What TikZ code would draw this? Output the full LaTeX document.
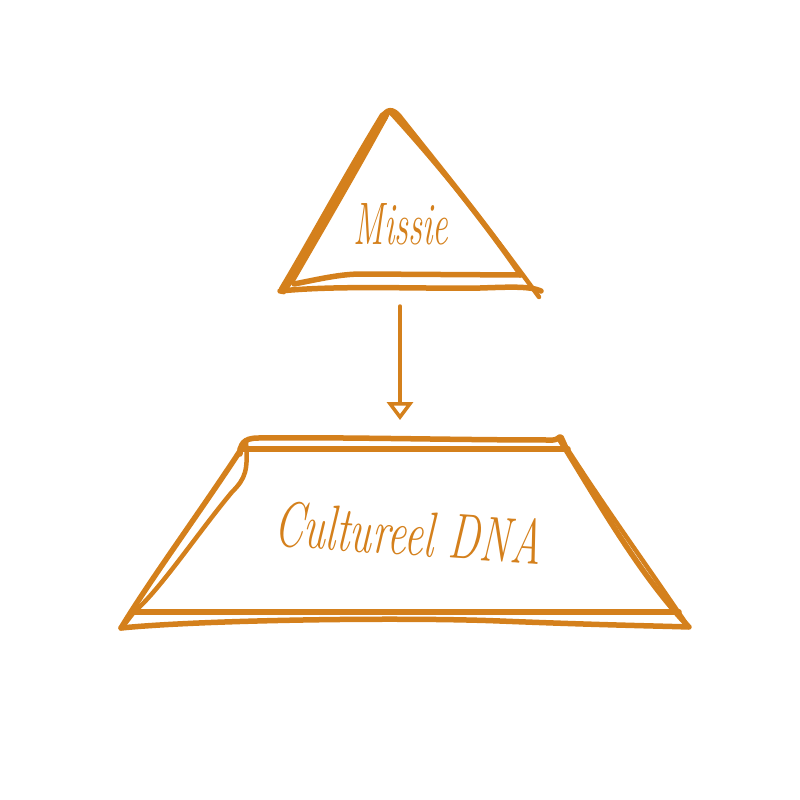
\documentclass[tikz,border=0pt]{standalone}
\usetikzlibrary{arrows.meta}
\definecolor{ochre}{HTML}{D4801C}
\begin{document}
\begin{tikzpicture}[x=1pt,y=-1pt,
  sk/.style={draw=ochre,line width=5.5pt,line cap=round,line join=round},
  lbl/.style={text=ochre,inner sep=0pt,transform shape}]
\useasboundingbox (0,0) rectangle (800,800);
% --- triangle (Missie) ---
\draw[sk,line width=9pt] (283,290) .. controls (310,245) and (345,180) .. (384,116);
\draw[sk,line width=4.5pt] (292,282) .. controls (322,230) and (360,165) .. (388,113);
\draw[sk] (382,118) .. controls (387,108) and (393,109) .. (399,116) .. controls (440,168) and (487,225) .. (521,275);
\draw[sk,line width=4.5pt] (391,113) .. controls (452,180) and (502,246) .. (539,297);
\draw[sk] (294,284) .. controls (320,279) and (340,274) .. (362,274) -- (520,275);
\draw[sk] (280,291) .. controls (340,285) and (420,289) .. (480,288) .. controls (510,287) and (530,286) .. (541,291);
\begin{scope}[shift={(401,224)},xscale=0.58]
\node[lbl,font=\fontsize{60}{60}\selectfont\itshape] (missie) at (0,0) {Missie};
\end{scope}
% --- arrow ---
\coordinate (arrS) at (400,306);
\coordinate (arrE) at (400,420);
\draw[ochre,line width=3.5pt,line cap=round,-{Triangle[open,width=26pt,length=18pt,line width=3.5pt]}] (arrS) -- (arrE);
% --- trapezoid (Cultureel DNA) ---
\draw[sk] (240,449) -- (568,449);
\draw[sk] (240,454) .. controls (240,445) and (243,438) .. (258,438) .. controls (350,437) and (450,440) .. (553,440) .. controls (558,440) and (559,436) .. (561,437) -- (566,448);
\draw[sk] (240,451) .. controls (200,512) and (150,580) .. (121,628);
\draw[sk,line width=4.5pt] (246,442) .. controls (248,470) and (246,478) .. (232,492) .. controls (200,530) and (160,590) .. (134,612) -- (124,625);
\draw[sk] (560,440) .. controls (600,505) and (640,575) .. (688,626);
\draw[sk,line width=4.5pt] (568,450) .. controls (610,515) and (650,570) .. (685,622);
\draw[sk] (133,612) -- (679,612);
\draw[sk] (121,628) .. controls (200,620) and (400,617) .. (500,621) .. controls (600,625) and (660,626) .. (689,627);
\begin{scope}[shift={(408,533)},rotate=-4,xscale=0.66]
\node[lbl,font=\fontsize{64}{64}\selectfont\itshape] (dna) at (0,0) {Cultureel DNA};
\end{scope}
\end{tikzpicture}
\end{document}
